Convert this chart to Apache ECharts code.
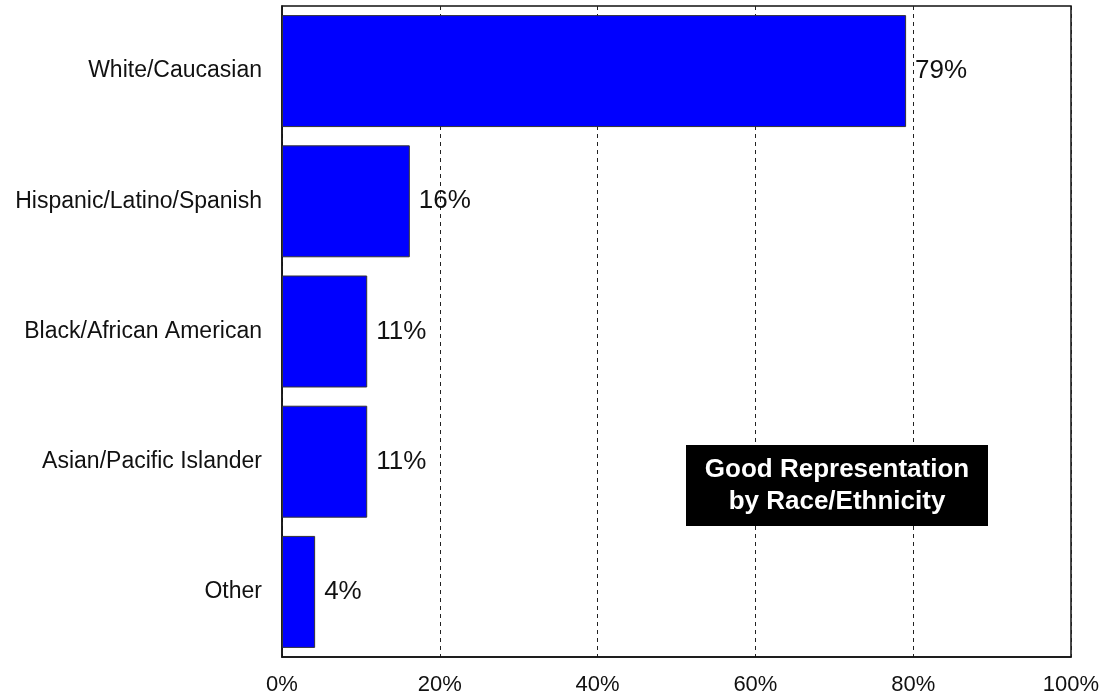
<!DOCTYPE html>
<html><head><meta charset="utf-8">
<script src="https://cdn.jsdelivr.net/npm/echarts@6/dist/echarts.min.js"></script>
<style>html,body{margin:0;padding:0;background:#fff}#c{width:1103px;height:694px}</style>
</head><body><div id="c"></div>
<script>
const categories = ["White/Caucasian","Hispanic/Latino/Spanish","Black/African American","Asian/Pacific Islander","Other"];
const values = [79.1, 16.2, 10.8, 10.8, 4.2];
const xTicks = [0, 20, 40, 60, 80, 100];
const boxTitle = ["Good Representation", "by Race/Ethnicity"];

const chart = echarts.init(document.getElementById('c'));
const F = 'Liberation Sans, Arial, sans-serif';
chart.setOption({
  animation: false,
  grid: {left: 282, right: 32, top: 6, bottom: 37, show: true, borderColor: '#111', borderWidth: 1.5, backgroundColor: 'transparent', outerBoundsMode: 'none', containLabel: false},
  xAxis: {
    type: 'value', min: 0, max: 100, interval: 20,
    axisLine: {show: true, lineStyle: {color: '#111', width: 1.5}},
    axisTick: {show: false},
    axisLabel: {formatter: v => xTicks.includes(v) ? v + '%' : '', color: '#111', fontSize: 22, fontFamily: F, margin: 17},
    splitLine: {show: true, lineStyle: {color: '#222', type: [4, 4], width: 1}}
  },
  yAxis: {
    type: 'category', data: categories, inverse: true,
    axisLine: {show: true, lineStyle: {color: '#111', width: 1.5}},
    axisTick: {show: false},
    axisLabel: {color: '#111', fontSize: 23, fontFamily: F, margin: 20}
  },
  series: [{
    type: 'bar', data: values, barCategoryGap: '14%',
    itemStyle: {color: '#0000ff', borderColor: '#333', borderWidth: 1},
    label: {show: true, position: 'right', distance: 9, formatter: p => Math.round(p.value) + '%', color: '#111', fontSize: 26, fontFamily: F}
  }],
  graphic: [{
    type: 'group', left: 686, top: 445, z: 100,
    children: [
      {type: 'rect', z: 100, shape: {x: 0, y: 0, width: 302, height: 81}, style: {fill: '#000'}},
      {type: 'text', z: 101, x: 151, y: 41, style: {text: boxTitle.join('\n'), fill: '#fff', fontSize: 26, fontFamily: F, fontWeight: 'bold', align: 'center', verticalAlign: 'middle', lineHeight: 32}}
    ]
  }]
});
</script></body></html>
